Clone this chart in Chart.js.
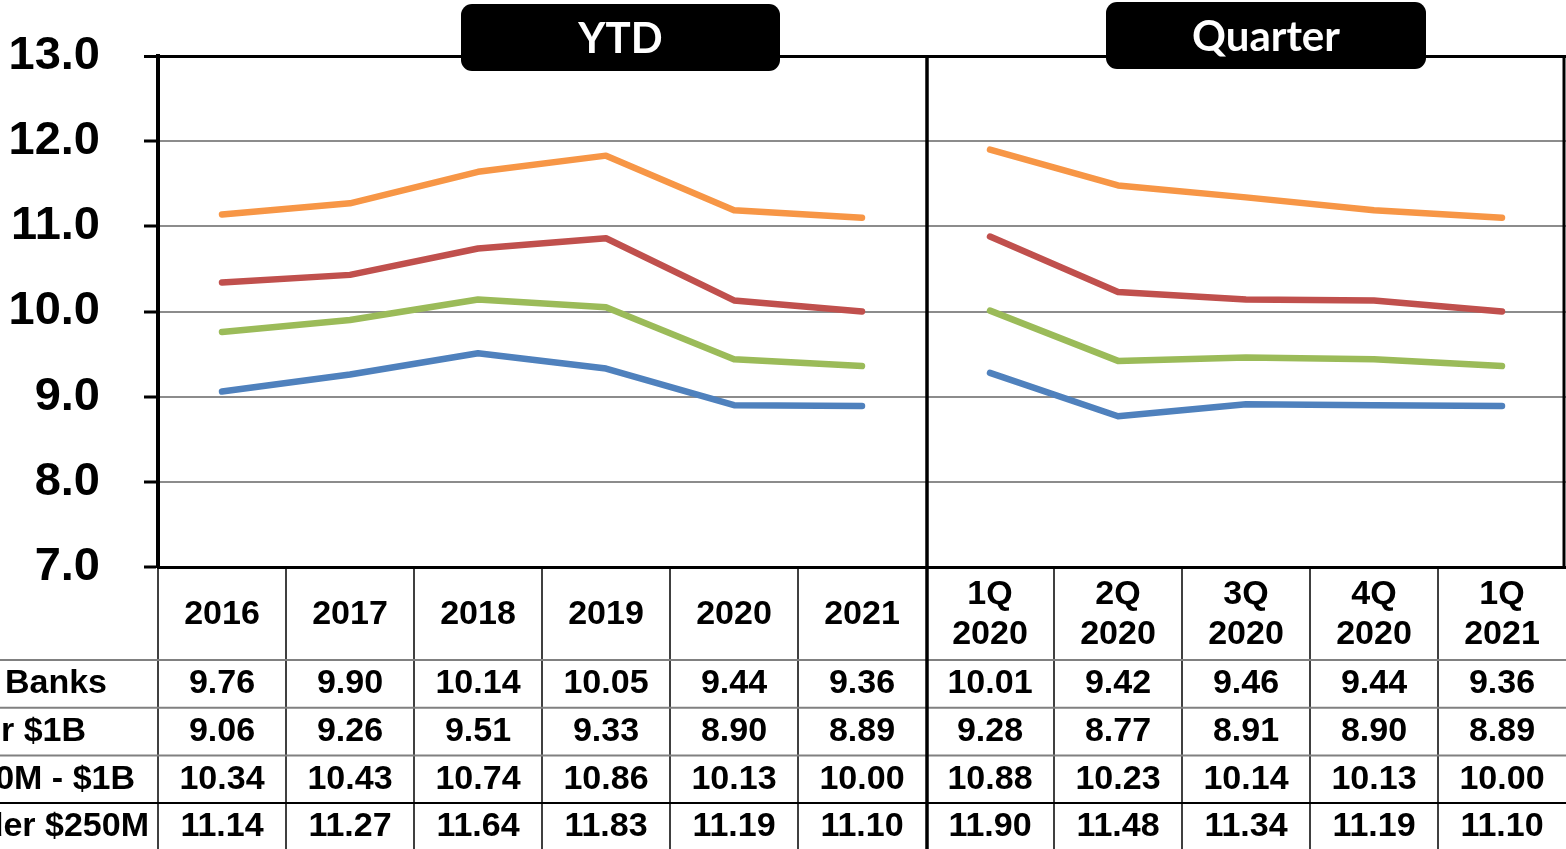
<!DOCTYPE html>
<html>
<head>
<meta charset="utf-8">
<script src="https://cdn.jsdelivr.net/npm/chart.js@4"></script>
<style>
  html, body { margin: 0; padding: 0; background: #fff; }
  canvas { display: block; }
</style>
</head>
<body>
<canvas id="chart" width="1566" height="849"></canvas>
<script>
// categories: 6 YTD years then 5 quarters
const categories = ["2016", "2017", "2018", "2019", "2020", "2021",
  ["1Q", "2020"], ["2Q", "2020"], ["3Q", "2020"], ["4Q", "2020"], ["1Q", "2021"]];

const allBanks = [9.76, 9.90, 10.14, 10.05, 9.44, 9.36, 10.01, 9.42, 9.46, 9.44, 9.36];
const over1B = [9.06, 9.26, 9.51, 9.33, 8.90, 8.89, 9.28, 8.77, 8.91, 8.90, 8.89];
const mid250To1B = [10.34, 10.43, 10.74, 10.86, 10.13, 10.00, 10.88, 10.23, 10.14, 10.13, 10.00];
const under250M = [11.14, 11.27, 11.64, 11.83, 11.19, 11.10, 11.90, 11.48, 11.34, 11.19, 11.10];

const rowLabels = ["All Banks", "Over $1B", "$250M - $1B", "Under $250M"];
const panelTitles = ["YTD", "Quarter"];
const yTicks = [7, 8, 9, 10, 11, 12, 13];

const FONT = "'Liberation Sans', Arial, sans-serif";
const splitIndex = 5; // last YTD point

// break the line between YTD and Quarter
const noJoin = (ctx) => (ctx.p0DataIndex === splitIndex ? "rgba(0,0,0,0)" : undefined);

const makeSeries = (data, color) => ({
  data,
  borderColor: color,
  borderWidth: 6.5,
  borderCapStyle: "round",
  borderJoinStyle: "round",
  pointRadius: 0,
  tension: 0,
  segment: { borderColor: noJoin },
});

const tablePlugin = {
  id: "dataTable",
  afterDraw(chart) {
    const { ctx, chartArea, scales } = chart;
    const x = scales.x;
    const bottom = chartArea.bottom;
    const H = chart.height;
    const colW = x.getPixelForValue(1) - x.getPixelForValue(0);
    const divX = (x.getPixelForValue(splitIndex) + x.getPixelForValue(splitIndex + 1)) / 2;

    ctx.save();

    // table column lines
    ctx.strokeStyle = "#000";
    ctx.lineWidth = 1.5;
    for (let i = 0; i < categories.length; i++) {
      const cx = x.getPixelForValue(i) - colW / 2;
      if (i === splitIndex + 1) continue;
      ctx.beginPath();
      ctx.moveTo(cx, bottom);
      ctx.lineTo(cx, H);
      ctx.stroke();
    }

    // row lines
    const rowTop = 660;
    const rowH = 47.7;
    for (let r = 0; r < rowLabels.length; r++) {
      const ry = rowTop + r * rowH;
      ctx.strokeStyle = r === 3 ? "#000" : "#808080";
      ctx.lineWidth = 2;
      ctx.beginPath();
      ctx.moveTo(0, ry);
      ctx.lineTo(chartArea.right, ry);
      ctx.stroke();
    }

    // divider between panels
    ctx.strokeStyle = "#000";
    ctx.lineWidth = 3.5;
    ctx.beginPath();
    ctx.moveTo(divX + 1, chartArea.top);
    ctx.lineTo(divX + 1, H);
    ctx.stroke();

    // right frame
    ctx.lineWidth = 3;
    ctx.beginPath();
    ctx.moveTo(chartArea.right - 2, chartArea.top);
    ctx.lineTo(chartArea.right - 2, bottom);
    ctx.stroke();

    // values + row labels
    const series = chart.data.datasets.map((d) => d.data);
    const rightEdges = [107, 86, 135, 149];
    ctx.fillStyle = "#000";
    ctx.font = "bold 34px " + FONT;
    ctx.textBaseline = "middle";
    for (let r = 0; r < rowLabels.length; r++) {
      const cy = rowTop + r * rowH + rowH / 2;
      ctx.textAlign = "right";
      ctx.fillText(rowLabels[r], rightEdges[r], cy);
      ctx.textAlign = "center";
      series[r].forEach((v, i) => {
        ctx.fillText(v.toFixed(2), x.getPixelForValue(i), cy);
      });
    }

    // panel title boxes
    const boxes = [
      { x: 461, y: 4, w: 319, h: 67 },
      { x: 1106, y: 2, w: 320, h: 67 },
    ];
    ctx.font = "bold 42px Lato, 'Open Sans', sans-serif";
    boxes.forEach((b, i) => {
      ctx.fillStyle = "#000";
      ctx.beginPath();
      ctx.roundRect(b.x, b.y, b.w, b.h, 11);
      ctx.fill();
      ctx.fillStyle = "#fff";
      ctx.textAlign = "center";
      ctx.textBaseline = "middle";
      ctx.fillText(panelTitles[i], b.x + b.w / 2, b.y + b.h / 2 + 2);
    });

    ctx.restore();
  },
};

new Chart(document.getElementById("chart"), {
  type: "line",
  data: {
    labels: categories,
    datasets: [
      makeSeries(allBanks, "#9BBB59"),
      makeSeries(over1B, "#4F81BD"),
      makeSeries(mid250To1B, "#C0504D"),
      makeSeries(under250M, "#F79646"),
    ],
  },
  options: {
    responsive: false,
    animation: false,
    layout: { padding: { top: 56, left: 0, right: 0, bottom: 0 } },
    plugins: { legend: { display: false }, tooltip: { enabled: false } },
    scales: {
      x: {
        type: "category",
        offset: true,
        grid: { display: false, drawTicks: false },
        border: { color: "#000", width: 3 },
        ticks: {
          color: "#000",
          font: { family: FONT, size: 34, weight: "bold", lineHeight: 1.18 },
          padding: 28,
          maxRotation: 0,
          autoSkip: false,
          crossAlign: "center",
        },
        afterFit: (scale) => {
          scale.height = 282;
          scale.paddingLeft = 0;
          scale.paddingRight = 0;
        },
      },
      y: {
        min: 7,
        max: 13,
        afterBuildTicks: (scale) => { scale.ticks = yTicks.map((v) => ({ value: v })); },
        grid: {
          color: (c) => (c.tick && c.tick.value === 13 ? "#000" : "#8c8c8c"),
          lineWidth: (c) => (c.tick && c.tick.value === 13 ? 3 : 2),
          tickColor: "#000",
          tickWidth: 3,
          tickLength: 14,
        },
        border: { color: "#000", width: 4 },
        ticks: {
          color: "#000",
          font: { family: FONT, size: 47, weight: "bold" },
          padding: 44,
          callback: (v) => Number(v).toFixed(1),
        },
        afterFit: (scale) => {
          scale.width = 158;
          scale.paddingTop = 0;
          scale.paddingBottom = 0;
        },
      },
    },
  },
  plugins: [tablePlugin],
});
</script>
</body>
</html>
